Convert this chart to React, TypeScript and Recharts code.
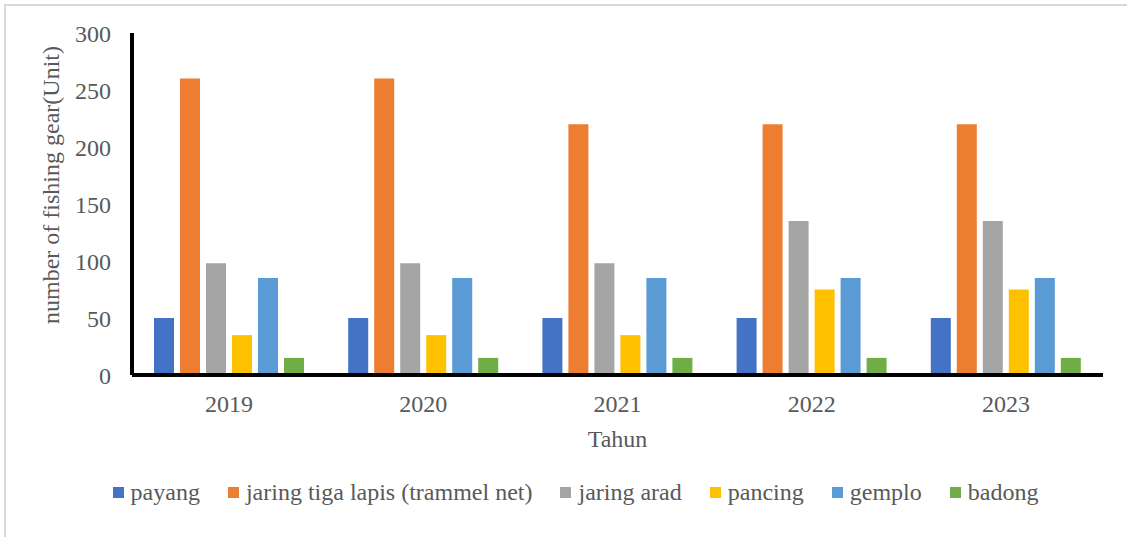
import { BarChart, Bar, XAxis, YAxis, Legend } from 'recharts'

const years = ['2019', '2020', '2021', '2022', '2023']

const payang = [50, 50, 50, 50, 50]
const trammelNet = [260, 260, 220, 220, 220]
const jaringArad = [98, 98, 98, 135, 135]
const pancing = [35, 35, 35, 75, 75]
const gemplo = [85, 85, 85, 85, 85]
const badong = [15, 15, 15, 15, 15]

const yTicks = [0, 50, 100, 150, 200, 250, 300]

const series = [
  { key: 'payang', name: 'payang', values: payang, color: '#4472C4' },
  { key: 'trammel', name: 'jaring tiga lapis (trammel net)', values: trammelNet, color: '#ED7D31' },
  { key: 'arad', name: 'jaring arad', values: jaringArad, color: '#A5A5A5' },
  { key: 'pancing', name: 'pancing', values: pancing, color: '#FFC000' },
  { key: 'gemplo', name: 'gemplo', values: gemplo, color: '#5B9BD5' },
  { key: 'badong', name: 'badong', values: badong, color: '#70AD47' },
]

const data = years.map((year, i) => {
  const row: Record<string, string | number> = { year }
  series.forEach((s) => {
    row[s.key] = s.values[i]
  })
  return row
})

const FONT = 'Liberation Serif'
const TEXT = '#595959'

function GearLegend() {
  return (
    <div
      style={{
        height: 40,
        display: 'flex',
        justifyContent: 'center',
        alignItems: 'center',
        gap: 28,
        paddingLeft: 24,
        fontFamily: FONT,
        fontSize: 24,
        color: TEXT,
      }}
    >
      {series.map((s) => (
        <div key={s.key} style={{ display: 'flex', alignItems: 'center' }}>
          <span style={{ width: 11, height: 11, background: s.color, marginRight: 7, display: 'inline-block' }} />
          <span>{s.name}</span>
        </div>
      ))}
    </div>
  )
}

// y title sits a bit above the plot's middle, like the original
function YTitle(props: any) {
  const { viewBox } = props
  const x = viewBox.x + 50
  const y = viewBox.y + viewBox.height / 2 - 19
  return (
    <text
      x={x}
      y={y}
      dy="0.355em"
      transform={`rotate(-90, ${x}, ${y})`}
      textAnchor="middle"
      fill={TEXT}
      fontSize={24}
      fontFamily={FONT}
    >
      number of fishing gear(Unit)
    </text>
  )
}

export default function App() {
  return (
    <div style={{ position: 'absolute', left: 0, top: 0, width: 1127, height: 537, background: '#fff', fontFamily: FONT }}>
      <div
        style={{
          position: 'absolute',
          left: 4,
          top: 4,
          right: 0,
          bottom: 0,
          borderLeft: '2px solid #d9d9d9',
          borderTop: '2px solid #d9d9d9',
        }}
      />
      <BarChart
        width={1127}
        height={537}
        data={data}
        margin={{ top: 33, right: 24, left: 0, bottom: 42 }}
        barCategoryGap={22}
        barGap={6}
      >
        <XAxis
          dataKey="year"
          height={80}
          tick={{ fill: TEXT, fontSize: 24, fontFamily: FONT }}
          tickLine={false}
          tickSize={0}
          tickMargin={20}
          axisLine={{ stroke: '#000', strokeWidth: 4 }}
          label={{ value: 'Tahun', position: 'insideBottom', offset: 8, fill: TEXT, fontSize: 24, fontFamily: FONT }}
        />
        <YAxis
          width={132}
          domain={[0, 300]}
          ticks={yTicks}
          tick={{ fill: TEXT, fontSize: 24, fontFamily: FONT }}
          tickLine={false}
          tickSize={0}
          tickMargin={21}
          axisLine={{ stroke: '#000', strokeWidth: 4 }}
          label={{ content: YTitle }}
        />
        <Legend
          verticalAlign="bottom"
          content={<GearLegend />}
          wrapperStyle={{ bottom: 25, left: 0, width: 1127 }}
        />
        {series.map((s) => (
          <Bar key={s.key} dataKey={s.key} name={s.name} fill={s.color} isAnimationActive={false} />
        ))}
      </BarChart>
    </div>
  )
}
